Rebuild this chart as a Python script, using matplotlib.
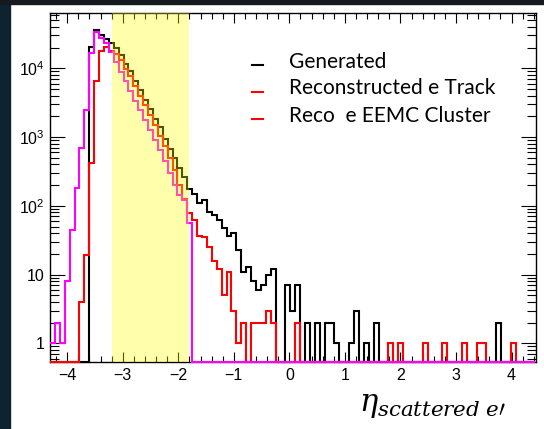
import numpy as np
import matplotlib.pyplot as plt
from matplotlib.patches import Rectangle
from matplotlib.lines import Line2D
from matplotlib.ticker import LogLocator, MultipleLocator, NullFormatter, FuncFormatter

plt.rcParams['mathtext.fontset'] = 'custom'
plt.rcParams['mathtext.rm'] = 'Liberation Sans'
plt.rcParams['mathtext.it'] = 'Liberation Sans:italic'

# histogram range (eta) and bin count
eta_lo, eta_hi = -4.31, 4.43
n_bins = 99

# counts per bin
generated = [0, 0, 0, 0, 0, 0, 0, 0, 20700, 36000,
             31000, 27000, 23000, 19500, 15500, 11500, 9000, 6500, 4900, 3500,
             2600, 1850, 1380, 950, 680, 490, 350, 260, 175, 149,
             109, 121, 82, 73, 62, 47, 36, 40, 23, 11,
             13, 8, 6, 7, 10, 12, 0, 0, 7, 3,
             7, 0, 2, 0, 2, 0, 2, 2, 1, 0,
             0, 1, 3, 0, 1, 0, 2, 0, 0, 0,
             0, 0, 0, 0, 0, 0, 0, 0, 0, 0,
             0, 0, 0, 0, 0, 0, 0, 0, 0, 0,
             0, 2, 0, 0, 0, 0, 0, 0, 0]
reco_track = [0, 0, 0, 0, 0, 0, 4, 19, 415, 6600,
              17700, 20700, 17700, 16000, 13000, 9800, 7600, 5500, 4000, 2900,
              2100, 1500, 1050, 740, 500, 330, 200, 125, 78, 63,
              37, 35, 25, 16, 12, 5, 11, 3, 1, 2,
              0, 2, 2, 2, 3, 2, 0, 0, 0, 0,
              2, 0, 0, 0, 0, 0, 0, 0, 0, 0,
              0, 0, 0, 0, 0, 0, 0, 0, 0, 1,
              0, 1, 0, 0, 0, 0, 1, 0, 0, 0,
              1, 0, 0, 0, 1, 0, 0, 1, 1, 0,
              0, 0, 0, 0, 1, 0, 0, 0, 0]
reco_cluster = [1, 2, 1, 8, 45, 180, 690, 2450, 16500, 34000,
                28000, 23000, 17500, 12500, 8800, 6500, 4700, 3400, 2450, 1750,
                1280, 920, 650, 450, 300, 200, 145, 120, 56] + [0] * 70

band_lo, band_hi = -3.2, -1.8
labels = ["Generated", "Reconstructed e Track", "Reco  e EEMC Cluster"]

W, H = 544, 429
fig = plt.figure(figsize=(W / 100, H / 100), dpi=100)
fig.patches.append(Rectangle((0, 0), 10 / W, 1, transform=fig.transFigure,
                             color='#0e2230', zorder=0))
fig.patches.append(Rectangle((0, 1 - 4 / H), 1, 4 / H, transform=fig.transFigure,
                             color='#151a1e', zorder=0))

ax = fig.add_axes([50 / W, 1 - 362.3 / H, 485.7 / W, 349.3 / H])
ymin, ymax = 0.53, 63700
edges = np.linspace(eta_lo, eta_hi, n_bins + 1)

for vals, col in [(generated, 'black'), (reco_track, 'red'), (reco_cluster, 'magenta')]:
    v = np.array(vals, dtype=float)
    v = np.where(v > 0, v, ymin)
    ax.stairs(v, edges, baseline=None, color=col, lw=1.5, zorder=3, clip_on=False)

ax.axvspan(band_lo, band_hi, color='yellow', alpha=0.33, lw=0, zorder=3.5)

ax.set_yscale('log')
ax.set_ylim(ymin, ymax)
ax.set_xlim(eta_lo, 4.435)

ax.xaxis.set_major_locator(MultipleLocator(1))
ax.xaxis.set_minor_locator(MultipleLocator(0.2))
ax.yaxis.set_major_locator(LogLocator(base=10))
ax.yaxis.set_minor_locator(LogLocator(base=10, subs=np.arange(2, 10)))
ax.yaxis.set_minor_formatter(NullFormatter())


def ylab(v, pos):
    e = int(round(np.log10(v)))
    if e == 0:
        return '1'
    if e == 1:
        return '10'
    return r'$10^{%d}$' % e


ax.yaxis.set_major_formatter(FuncFormatter(ylab))
ax.tick_params(axis='both', which='both', direction='in', top=True, right=True,
               width=0.8, labelsize=11.5)
ax.tick_params(axis='x', which='major', length=7.5, pad=4)
ax.tick_params(axis='x', which='minor', length=4)
ax.tick_params(axis='y', which='major', length=11, pad=4)
ax.tick_params(axis='y', which='minor', length=6.5)
for lab in ax.get_xticklabels() + ax.get_yticklabels():
    lab.set_family('Liberation Sans')
for s in ax.spines.values():
    s.set_linewidth(1.0)

# legend
leg_cols = ['black', 'red', 'red']
leg_y = [0.851, 0.775, 0.696]
for lab, c, yy in zip(labels, leg_cols, leg_y):
    ax.add_line(Line2D([0.416, 0.438], [yy, yy], color=c, lw=1.5,
                       transform=ax.transAxes, zorder=5))
    ax.text(0.492, yy + 0.01, lab, transform=ax.transAxes, fontsize=15,
            family='Lato', va='center', ha='left', zorder=5)

fig.text(359 / W, 1 - 406 / H, r'$\eta_{scattered\ e\prime}$', fontsize=22,
         math_fontfamily='dejavuserif', ha='left', va='center')

fig.savefig('out.png', dpi=100)
